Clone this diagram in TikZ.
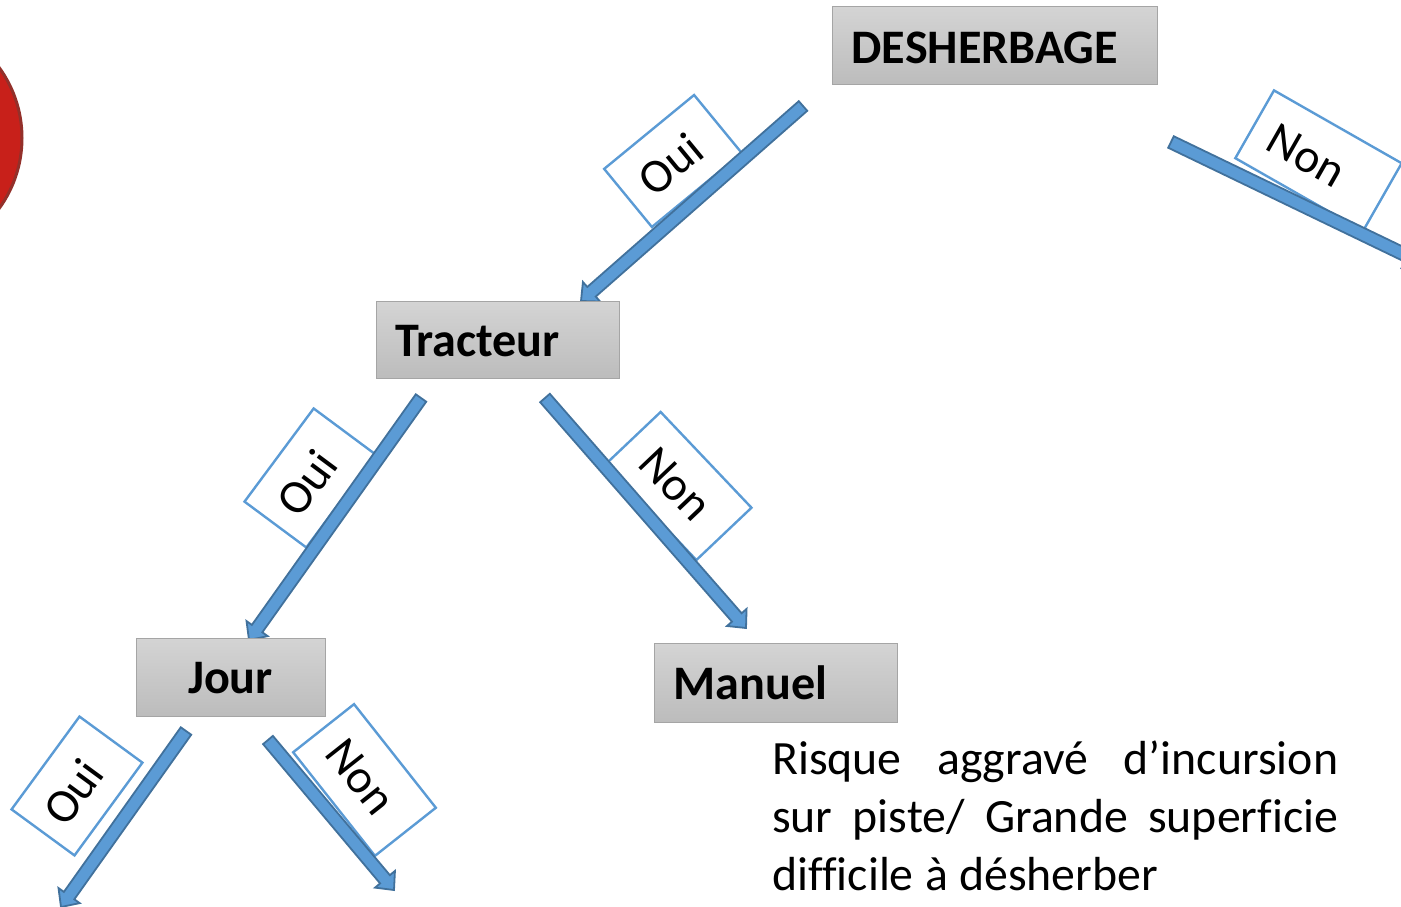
\documentclass[tikz,border=0pt]{standalone}
\usepackage{fontspec}
\setmainfont[Ligatures=NoCommon]{Carlito}
\usetikzlibrary{calc}
\definecolor{labelblue}{HTML}{5B9BD5}
\definecolor{arrowedge}{HTML}{41719C}
\definecolor{boxedge}{HTML}{A5A5A5}
\definecolor{boxtop}{HTML}{D4D4D4}
\definecolor{boxbot}{HTML}{BCBCBC}
\definecolor{discred}{HTML}{C8201A}
\definecolor{discedge}{HTML}{93302A}
\tikzset{
  graybox/.style={draw=boxedge,line width=0.05cm,top color=boxtop,bottom color=boxbot,anchor=north west,inner sep=0pt},
  boxtext/.style={anchor=west,inner sep=0pt,font=\fontsize{68.5}{68.5}\selectfont\bfseries},
  labelbox/.style={draw=labelblue,line width=0.12cm,fill=white,inner sep=0pt},
  labeltext/.style={inner sep=0pt,font=\fontsize{68}{68}\selectfont},
  blockarrow/.style={draw=arrowedge,line width=0.09cm,fill=labelblue,line join=miter},
  bodytext/.style={anchor=north west,inner sep=0pt,align=left,font=\fontsize{68}{82}\selectfont}
}
\newcommand{\blockarr}[2]{%
  \coordinate (h) at ($(#2)!0.7cm!(#1)$);
  \draw[blockarrow] ($(#1)!0.32cm!90:(#2)$) -- ($(h)!0.32cm!90:(#2)$) -- ($(h)!0.65cm!90:(#2)$) -- (#2)
    -- ($(h)!0.65cm!-90:(#2)$) -- ($(h)!0.32cm!-90:(#2)$) -- ($(#1)!0.32cm!-90:(#2)$) -- cycle;}
\begin{document}
\begin{tikzpicture}[x=0.05cm,y=-0.05cm]
\useasboundingbox (0,0) rectangle (1401,907);
\clip (0,0) rectangle (1401,907);
\fill[discred,draw=discedge,line width=0.15cm] (-98,138) circle (120);
% labels
\node[labelbox,rotate=39.4,minimum width=5.82cm,minimum height=3.76cm] (l1) at (673,161) {};
\node[labeltext,rotate=39.4] (t1) at (670,164) {Oui};
\node[labelbox,rotate=-29.7,minimum width=7.35cm,minimum height=3.9cm] (l2) at (1318.5,160.7) {};
\node[labeltext,rotate=-29.7] (t2) at (1306.5,155.7) {Non};
\node[labelbox,rotate=53.4,minimum width=5.8cm,minimum height=3.85cm] (l3) at (310,478) {};
\node[labeltext,rotate=53.4] (t3) at (307,483) {Oui};
\node[labelbox,rotate=-46.5,minimum width=6.6cm,minimum height=3.8cm] (l4) at (678.5,486) {};
\node[labeltext,rotate=-46.5] (t4) at (675.5,484) {Non};
\node[labelbox,rotate=53.8,minimum width=5.75cm,minimum height=3.9cm] (l5) at (77,786) {};
\node[labeltext,rotate=53.8] (t5) at (73,792) {Oui};
\node[labelbox,rotate=-51.7,minimum width=6.6cm,minimum height=3.88cm] (l6) at (364.5,780) {};
\node[labeltext,rotate=-51.7] (t6) at (360.5,777) {Non};
% arrow ends
\coordinate (a1) at (803,106); \coordinate (b1) at (581,301);
\coordinate (a2) at (1171,142); \coordinate (b2) at (1420,262);
\coordinate (a3) at (421,398); \coordinate (b3) at (249,640);
\coordinate (a4) at (545,398); \coordinate (b4) at (746,628);
\coordinate (a5) at (186,731); \coordinate (b5) at (61,907);
\coordinate (a6) at (268,740); \coordinate (b6) at (394,890);
\blockarr{a1}{b1}\blockarr{a2}{b2}\blockarr{a3}{b3}\blockarr{a4}{b4}\blockarr{a5}{b5}\blockarr{a6}{b6}
% boxes
\node[graybox,minimum width=16.3cm,minimum height=3.9cm] (desh) at (831.5,6.5) {};
\node[boxtext] (deshT) at (851.5,47.5) {DESHERBAGE};
\node[graybox,minimum width=12.2cm,minimum height=3.9cm] (trac) at (375.5,300.5) {};
\node[boxtext] (tracT) at (395,341.5) {Tracteur};
\node[graybox,minimum width=9.5cm,minimum height=3.9cm] (jour) at (135.5,637.5) {};
\node[boxtext] (jourT) at (188,678) {Jour};
\node[graybox,minimum width=12.2cm,minimum height=3.95cm] (manu) at (653.5,642.5) {};
\node[boxtext] (manuT) at (673.5,683) {Manuel};
\node[bodytext,text width=28.3cm] (body) at (772,741) {Risque\hfill aggravé\hfill d’incursion\\sur\hfill piste/\hfill Grande\hfill superficie\\\hbox to 19.3cm{difficile\hfill à\hfill désherber}};
\end{tikzpicture}
\end{document}
